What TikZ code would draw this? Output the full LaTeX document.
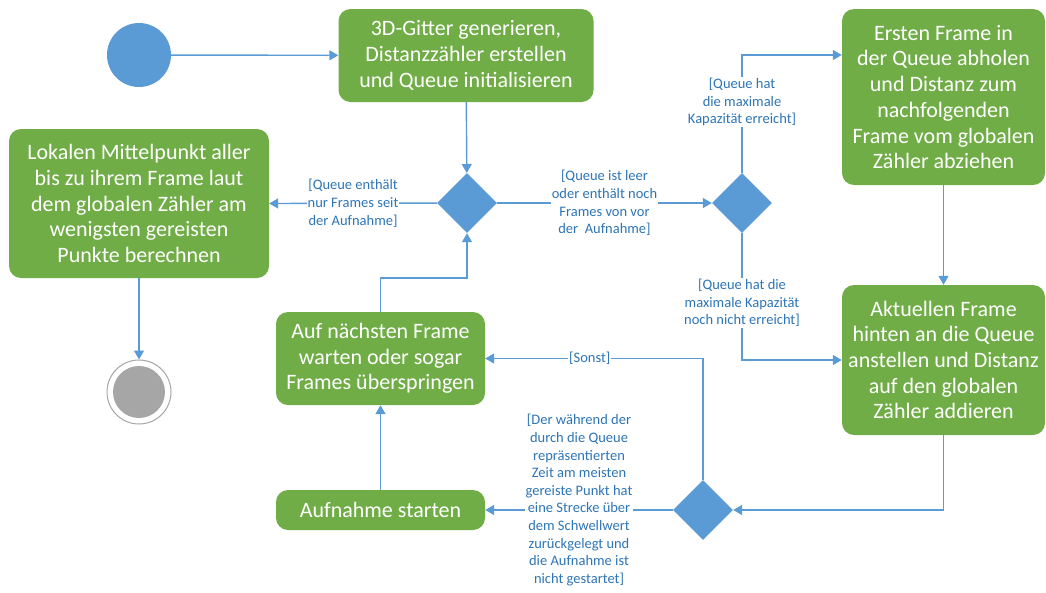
\documentclass[tikz,border=0pt]{standalone}
\usepackage{fontspec}
\setmainfont{Carlito}
\usetikzlibrary{positioning,arrows.meta,shapes.geometric}
\definecolor{actgreen}{RGB}{112,173,71}
\definecolor{flowblue}{RGB}{91,155,213}
\definecolor{guardblue}{RGB}{46,117,182}
\definecolor{endgray}{RGB}{166,166,166}

\tikzset{
  action/.style={rectangle,rounded corners=12pt,fill=actgreen,text=white,
    align=center,inner sep=0pt,font=\fontsize{22}{25.7}\selectfont},
  branch/.style={diamond,fill=flowblue,minimum width=60pt,minimum height=60pt,inner sep=0pt},
  flow/.style={flowblue,line width=1.4pt,-{Triangle[length=9pt,width=10pt]}},
  guard/.style={fill=white,text=guardblue,align=center,inner sep=1pt,
    font=\fontsize{14.5}{17.6}\selectfont},
}

\begin{document}
\begin{tikzpicture}[x=1pt,y=-1pt]
\useasboundingbox (0,0) rectangle (1046,592);

% Start and end
\node[circle,fill=flowblue,minimum size=64pt,inner sep=0pt] (start) at (139,55) {};
\node[circle,draw=endgray,line width=1pt,minimum size=64pt,inner sep=0pt] (ende) at (139,392) {};
\node[circle,fill=endgray,minimum size=52pt,inner sep=0pt] at (ende) {};

% Actions
\node[action,minimum width=255pt,minimum height=93pt] (init) at (466,55.5)
  {3D-Gitter generieren,\\Distanzzähler erstellen\\und Queue initialisieren};
\node[action,minimum width=260pt,minimum height=149pt] (mitte) at (139,203.5)
  {Lokalen Mittelpunkt aller\\bis zu ihrem Frame laut\\dem globalen Zähler am\\wenigsten gereisten\\Punkte berechnen};
\node[action,minimum width=203pt,minimum height=176pt] (erster) at (943.5,97)
  {Ersten Frame in\\der Queue abholen\\und Distanz zum\\nachfolgenden\\Frame vom globalen\\Zähler abziehen};
\node[action,minimum width=203pt,minimum height=150pt] (anhang) at (943.5,360)
  {Aktuellen Frame\\hinten an die Queue\\anstellen und Distanz\\auf den globalen\\Zähler addieren};
\node[action,minimum width=209pt,minimum height=93pt] (warten) at (380.5,358.5)
  {Auf nächsten Frame\\warten oder sogar\\Frames überspringen};
\node[action,minimum width=209pt,minimum height=40pt] (aufnahme) at (380.5,510)
  {Aufnahme starten};

% Decisions
\node[branch] (d1) at (467,203) {};
\node[branch] (d2) at (742,203) {};
\node[branch] (d3) at (703,510) {};

% Connectors
\draw[flow] (start) -- (init);
\draw[flow] (init) -- (d1);
\draw[flow] (d1) -- (mitte.east) node[guard,midway] {[Queue enthält\\nur Frames seit\\der Aufnahme]};
\draw[flow] (d1) -- (d2) node[guard,midway] {[Queue ist leer\\oder enthält noch\\Frames von vor\\der\ \ Aufnahme]};
\draw[flow] (d2.north) |- (erster.west |- start) node[guard,pos=0.3] {[Queue hat\\die maximale\\Kapazität erreicht]};
\draw[flow] (d2.south) |- (anhang.west) node[guard,pos=0.275] {[Queue hat die\\maximale Kapazität\\noch nicht erreicht]};
\draw[flow] (erster) -- (anhang);
\draw[flow] (anhang.south) |- (d3.east);
\draw[flow] (d3.north) |- (warten.east) node[guard,pos=0.76] {[Sonst]};
\draw[flow] (d3.west) -- (aufnahme.east) node[guard,midway,yshift=10pt] {[Der während der\\durch die Queue\\repräsentierten\\Zeit am meisten\\gereiste Punkt hat\\eine Strecke über\\dem Schwellwert\\zurückgelegt und\\die Aufnahme ist\\nicht gestartet]};
\draw[flow] (aufnahme) -- (warten);
\draw[flow] (warten.north) -- ++(0,-34) -| (d1.south);
\draw[flow] (mitte) -- (ende);
\end{tikzpicture}
\end{document}
